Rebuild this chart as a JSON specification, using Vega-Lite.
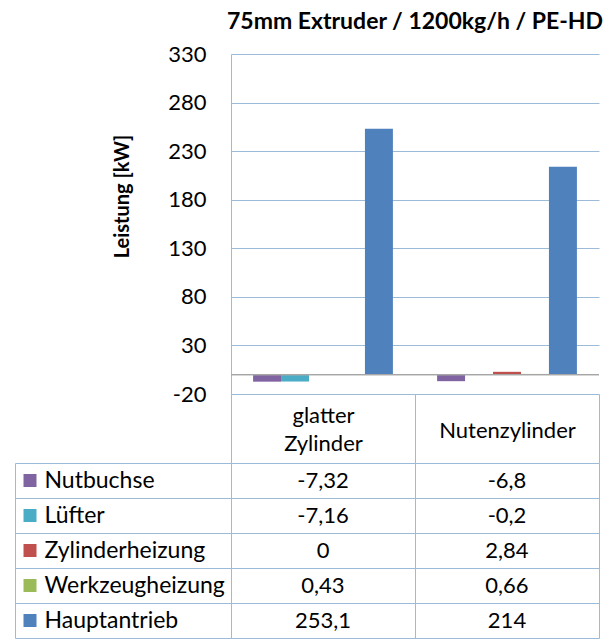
{
  "$schema": "https://vega.github.io/schema/vega-lite/v6.json",
  "autosize": {"type": "pad"},
  "padding": {"left": 14, "top": 11, "right": 0, "bottom": 0},
  "datasets": {
    "d": [
      {"cat": "glatter Zylinder", "series": "Nutbuchse", "value": -7.32},
      {"cat": "glatter Zylinder", "series": "Lüfter", "value": -7.16},
      {"cat": "glatter Zylinder", "series": "Zylinderheizung", "value": 0},
      {"cat": "glatter Zylinder", "series": "Werkzeugheizung", "value": 0.43},
      {"cat": "glatter Zylinder", "series": "Hauptantrieb", "value": 253.1},
      {"cat": "Nutenzylinder", "series": "Nutbuchse", "value": -6.8},
      {"cat": "Nutenzylinder", "series": "Lüfter", "value": -0.2},
      {"cat": "Nutenzylinder", "series": "Zylinderheizung", "value": 2.84},
      {"cat": "Nutenzylinder", "series": "Werkzeugheizung", "value": 0.66},
      {"cat": "Nutenzylinder", "series": "Hauptantrieb", "value": 214}
    ]
  },
  "vconcat": [
    {
      "width": 368,
      "height": 340,
      "data": {"name": "d"},
      "title": {"text": "75mm Extruder / 1200kg/h / PE-HD", "anchor": "middle", "frame": "group", "font": "Lato", "fontSize": 23, "fontWeight": "bold", "color": "black", "offset": 9},
      "layer": [
        {
          "mark": {"type": "bar"},
          "encoding": {
            "x": {"field": "cat", "type": "nominal", "sort": ["glatter Zylinder", "Nutenzylinder"], "scale": {"paddingInner": 0, "paddingOuter": 0}, "axis": null},
            "xOffset": {"field": "series", "type": "nominal", "sort": ["Nutbuchse", "Lüfter", "Zylinderheizung", "Werkzeugheizung", "Hauptantrieb"], "scale": {"paddingInner": 0, "paddingOuter": 0.79}},
            "y": {"field": "value", "type": "quantitative", "scale": {"domain": [-20, 330], "nice": false},
              "axis": {"values": [-20, 30, 80, 130, 180, 230, 280, 330], "title": "Leistung [kW]", "titleFont": "Lato", "titleFontSize": 20, "titleFontWeight": "bold", "titleColor": "black", "titlePadding": 35, "titleY": 142,
                "ticks": false, "labelPadding": 25, "labelFont": "Lato", "labelFontSize": 22, "labelColor": "black",
                "domainColor": "#9bbbd9", "grid": true, "gridColor": "#9bbbd9", "labelOverlap": false, "labelFlush": false}},
            "y2": {"datum": 0},
            "color": {"field": "series", "type": "nominal", "scale": {"domain": ["Nutbuchse", "Lüfter", "Zylinderheizung", "Werkzeugheizung", "Hauptantrieb"], "range": ["#8064a2", "#4bacc6", "#c0504d", "#9bbb59", "#4f81bd"]}, "legend": null}
          }
        },
        {
          "mark": {"type": "rule", "color": "#a6a6a6", "strokeWidth": 1},
          "encoding": {"y": {"datum": 0}}
        }
      ]
    },
    {
      "width": 368,
      "height": 175,
      "data": {"name": "d"},
      "resolve": {"axis": {"y": "independent"}},
      "layer": [
        {
          "mark": {"type": "text", "font": "Lato", "fontSize": 22, "color": "black", "baseline": "middle", "align": "center"},
          "encoding": {
            "x": {"field": "cat", "type": "nominal", "sort": ["glatter Zylinder", "Nutenzylinder"], "scale": {"paddingInner": 0, "paddingOuter": 0},
              "axis": {"orient": "top", "title": null, "labelAngle": 0, "tickBand": "extent", "tickSize": 69, "tickColor": "#9bbbd9", "domainColor": "#9bbbd9", "grid": true, "gridColor": "#9bbbd9",
                "labelPadding": {"condition": {"test": "datum.value === 'glatter Zylinder'", "value": -21}, "value": -36},
                "labelBaseline": "middle", "labelFont": "Lato", "labelFontSize": 22, "labelColor": "black", "labelLineHeight": 28, "labelOverlap": false, "labelFlush": false, "labelLimit": 300,
                "labelExpr": "datum.value == 'glatter Zylinder' ? ['glatter', 'Zylinder'] : datum.label"}},
            "y": {"field": "series", "type": "nominal", "sort": ["Nutbuchse", "Lüfter", "Zylinderheizung", "Werkzeugheizung", "Hauptantrieb"], "scale": {"paddingInner": 0, "paddingOuter": 0},
              "axis": {"orient": "left", "title": null, "tickBand": "extent", "tickSize": 216, "tickColor": "#9bbbd9", "domainColor": "#9bbbd9", "grid": true, "gridColor": "#9bbbd9",
                "labelAlign": "left", "labelBaseline": "middle", "labelPadding": -29, "labelFont": "Lato", "labelFontSize": 23, "labelColor": "black", "labelLimit": 300, "labelOverlap": false, "labelFlush": false}},
            "text": {"field": "value", "type": "quantitative", "format": "~g"}
          }
        },
        {
          "mark": {"type": "point", "opacity": 0},
          "encoding": {
            "y": {"field": "series", "type": "nominal", "sort": ["Nutbuchse", "Lüfter", "Zylinderheizung", "Werkzeugheizung", "Hauptantrieb"],
              "axis": {"orient": "left", "title": null, "offset": 195, "domain": false, "labels": false, "grid": false, "ticks": true, "tickSize": 13, "tickWidth": 13,
                "tickColor": {"condition": [
                  {"test": "datum.value === 'Nutbuchse'", "value": "#8064a2"},
                  {"test": "datum.value === 'Lüfter'", "value": "#4bacc6"},
                  {"test": "datum.value === 'Zylinderheizung'", "value": "#c0504d"},
                  {"test": "datum.value === 'Werkzeugheizung'", "value": "#9bbb59"}
                ], "value": "#4f81bd"}}}
          }
        },
        {
          "mark": {"type": "point", "opacity": 0},
          "encoding": {
            "y": {"field": "series", "type": "nominal", "sort": ["Nutbuchse", "Lüfter", "Zylinderheizung", "Werkzeugheizung", "Hauptantrieb"],
              "axis": {"orient": "left", "title": null, "offset": 216, "domain": true, "domainColor": "#9bbbd9", "labels": false, "grid": false, "ticks": false}}
          }
        }
      ]
    }
  ],
  "spacing": 69,
  "bounds": "flush",
  "config": {
    "view": {"stroke": null},
    "font": "Lato",
    "locale": {"number": {"decimal": ",", "thousands": ".", "grouping": [3], "currency": ["", " €"], "minus": "-"}}
  }
}
